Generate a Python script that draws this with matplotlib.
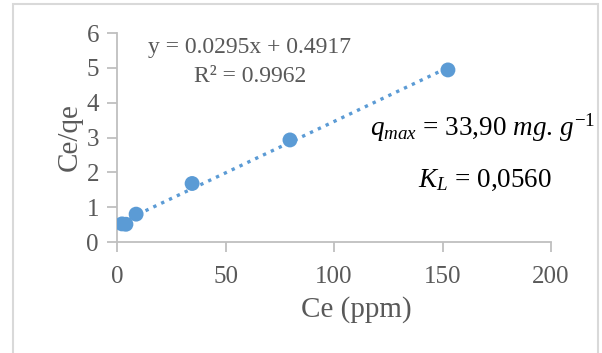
import numpy as np
import matplotlib
matplotlib.use("Agg")
import matplotlib.pyplot as plt
from matplotlib.patches import Rectangle

# data
ce = [2.3, 4.1, 8.8, 34.6, 79.7, 152.5]
ce_qe = [0.52, 0.51, 0.80, 1.68, 2.93, 4.94]
x_ticks = [0, 50, 100, 150, 200]
y_ticks = [0, 1, 2, 3, 4, 5, 6]

plt.rcParams['font.family'] = ['Liberation Serif', 'DejaVu Serif']
plt.rcParams['mathtext.fontset'] = 'custom'
plt.rcParams['mathtext.rm'] = 'Liberation Serif'
plt.rcParams['mathtext.it'] = 'Liberation Serif:italic'

gray = '#595959'
blue = '#5B9BD5'

fig = plt.figure(figsize=(6.02, 3.53), dpi=100)
ax = fig.add_axes([0.1944, 0.3144, 0.7209, 0.5921])

# outer frame
fig.patches.append(Rectangle((13/602, -0.01), 585/602, 1 - 4/353 + 0.01,
                             transform=fig.transFigure, fill=False,
                             edgecolor='#D9D9D9', linewidth=1.5))

ax.scatter(ce, ce_qe, s=115, color=blue, zorder=3, edgecolor='none')

slope, intercept = np.polyfit(ce, ce_qe, 1)
xs = np.array([min(ce), max(ce)])
ax.plot(xs, slope*xs + intercept, linestyle=(0, (1, 1.6)), color=blue,
        linewidth=2.4, zorder=2)

ax.set_xlim(0, 200)
ax.set_ylim(0, 6)
ax.set_xticks(x_ticks)
ax.set_yticks(y_ticks)
for s in ['top', 'right']:
    ax.spines[s].set_visible(False)
for s in ['left', 'bottom']:
    ax.spines[s].set_color('#BFBFBF')
    ax.spines[s].set_linewidth(1.3)
ax.tick_params(colors='#BFBFBF', labelcolor=gray, labelsize=18, length=7,
               width=1.3)
ax.tick_params(axis='x', pad=10)
ax.tick_params(axis='y', pad=6)

ax.set_xlabel('Ce (ppm)', fontsize=21, color=gray, va='center')
ax.xaxis.set_label_coords(0.551, -0.325)
ax.set_ylabel('Ce/qe', fontsize=21, color=gray, va='center')
ax.yaxis.set_label_coords(-0.108, 0.5)

ax.text(250/602, 1 - 48/353, 'y = 0.0295x + 0.4917', transform=fig.transFigure,
        ha='center', va='center', fontsize=17, color=gray)
ax.text(250/602, 1 - 77/353, 'R² = 0.9962', transform=fig.transFigure,
        ha='center', va='center', fontsize=17, color=gray)

fig.text(370/602, 1 - 128/353, r'$q_{max}$ = 33,90 $mg.\,g^{-1}$', fontsize=19.5,
         ha='left', va='center', color='black')
fig.text(418/602, 1 - 180/353, r'$K_L$ = 0,0560', fontsize=19.5,
         ha='left', va='center', color='black')

fig.savefig('out.png', dpi=100)
